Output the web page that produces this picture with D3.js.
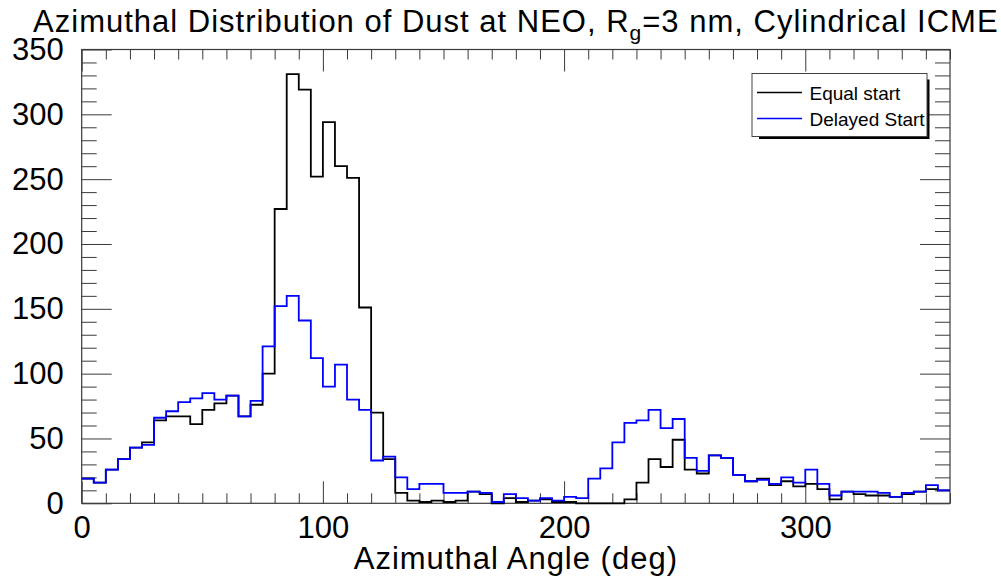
<!DOCTYPE html>
<html>
<head>
<meta charset="utf-8">
<script src="https://cdn.jsdelivr.net/npm/d3@7"></script>
<style>
  html, body { margin: 0; padding: 0; background: #fff; }
  svg { display: block; font-family: "Liberation Sans", Arial, Helvetica, sans-serif; }
</style>
</head>
<body>
<svg id="chart" width="1001" height="579"></svg>
<script>
// Histogram bins: 5-degree bins covering 0..360 deg of azimuth
const binWidth = 5;
const angleMin = 0;
const angleMax = 360;

// Counts per bin, equal start times
const equalStart = [
  19, 16, 26, 34, 43, 47, 64, 67, 67, 61, 72, 77, 83, 67, 76, 100,
  227, 331, 319, 252, 294, 260, 251, 151, 70, 34, 8, 2, 1, 2, 1, 2,
  9, 7, 0, 4, 1, 2, 3, 1, 1, 0, 0, 0, 0, 3, 16, 34,
  28, 49, 26, 23, 37, 35, 22, 17, 19, 14, 17, 13, 15, 11, 3, 9,
  7, 6, 6, 5, 7, 9, 11, 10
];

// Counts per bin, delayed start times
const delayedStart = [
  19, 16, 26, 34, 43, 45, 66, 71, 78, 81, 85, 80, 83, 67, 79, 121,
  152, 160, 141, 112, 90, 107, 80, 72, 33, 36, 20, 11, 15, 15, 8, 8,
  9, 8, 1, 7, 4, 2, 4, 2, 5, 4, 19, 27, 47, 62, 64, 72,
  58, 65, 35, 25, 37, 35, 22, 17, 18, 15, 20, 16, 26, 15, 6, 9,
  9, 9, 8, 5, 8, 9, 14, 10
];

const seriesNames = ["Equal start", "Delayed Start"];
const seriesColors = ["#000000", "#0000ff"];

const xMajorTicks = [0, 100, 200, 300];
const yMajorTicks = [0, 50, 100, 150, 200, 250, 300, 350];
const xMinorStep = 10;
const yMinorStep = 10;
const yMax = 350;

const svg = d3.select("#chart");
const plot = { left: 81.7, right: 950, top: 49.5, bottom: 503.3 };

const x = d3.scaleLinear().domain([angleMin, angleMax]).range([plot.left, plot.right]);
const y = d3.scaleLinear().domain([0, yMax]).range([plot.bottom, plot.top]);

const xMinor = d3.range(angleMin, angleMax + 1, xMinorStep).filter(v => !xMajorTicks.includes(v));
const yMinor = d3.range(0, yMax + 1, yMinorStep).filter(v => !yMajorTicks.includes(v));

const axisColor = "#3a3a3a";
const fontSize = 31;

function styleAxis(g) {
  g.select(".domain").remove();
  g.selectAll(".tick line").attr("stroke", axisColor).attr("stroke-width", 1);
  g.selectAll(".tick text")
    .attr("fill", "#000")
    .style("font-size", fontSize + "px")
    .style("font-family", '"Liberation Sans", Arial, sans-serif');
}

// Bottom axis: labelled major ticks + minor ticks (pointing inward)
svg.append("g").attr("transform", `translate(0,${plot.bottom})`)
  .call(d3.axisBottom(x).tickValues(xMajorTicks).tickSize(-22).tickPadding(12.5).tickFormat(d3.format("d")))
  .call(styleAxis);
svg.append("g").attr("transform", `translate(0,${plot.bottom})`)
  .call(d3.axisBottom(x).tickValues(xMinor).tickSize(-10).tickFormat(""))
  .call(styleAxis);

// Top axis: ticks only
svg.append("g").attr("transform", `translate(0,${plot.top})`)
  .call(d3.axisTop(x).tickValues(xMajorTicks).tickSize(-22).tickFormat(""))
  .call(styleAxis);
svg.append("g").attr("transform", `translate(0,${plot.top})`)
  .call(d3.axisTop(x).tickValues(xMinor).tickSize(-10).tickFormat(""))
  .call(styleAxis);

// Left axis with labels
svg.append("g").attr("transform", `translate(${plot.left},0)`)
  .call(d3.axisLeft(y).tickValues(yMajorTicks).tickSize(-30).tickPadding(18).tickFormat(d3.format("d")))
  .call(styleAxis);
svg.append("g").attr("transform", `translate(${plot.left},0)`)
  .call(d3.axisLeft(y).tickValues(yMinor).tickSize(-15).tickFormat(""))
  .call(styleAxis);

// Right axis: ticks only
svg.append("g").attr("transform", `translate(${plot.right},0)`)
  .call(d3.axisRight(y).tickValues(yMajorTicks).tickSize(-30).tickFormat(""))
  .call(styleAxis);
svg.append("g").attr("transform", `translate(${plot.right},0)`)
  .call(d3.axisRight(y).tickValues(yMinor).tickSize(-15).tickFormat(""))
  .call(styleAxis);

// Plot frame
svg.append("rect")
  .attr("x", plot.left).attr("y", plot.top)
  .attr("width", plot.right - plot.left).attr("height", plot.bottom - plot.top)
  .attr("fill", "none").attr("stroke", axisColor).attr("stroke-width", 1.2);

// Histogram step lines
function stepPoints(counts) {
  const pts = counts.map((c, i) => [angleMin + i * binWidth, c]);
  pts.push([angleMin + counts.length * binWidth, counts[counts.length - 1]]);
  return pts;
}
const line = d3.line().x(d => x(d[0])).y(d => y(d[1])).curve(d3.curveStepAfter);

[equalStart, delayedStart].forEach((counts, i) => {
  svg.append("path")
    .datum(stepPoints(counts))
    .attr("d", line)
    .attr("fill", "none")
    .attr("stroke", seriesColors[i])
    .attr("stroke-width", 1.8)
    .attr("stroke-linejoin", "miter");
});

// Title with subscript
const title = svg.append("text")
  .attr("x", (plot.left + plot.right) / 2)
  .attr("y", 31.7)
  .attr("text-anchor", "middle")
  .style("font-size", fontSize + "px")
  .style("letter-spacing", "1px");
title.append("tspan").text("Azimuthal Distribution of Dust at NEO, R");
title.append("tspan").attr("dy", 8).style("font-size", "21px").text("g");
title.append("tspan").attr("dy", -8).text("=3 nm, Cylindrical ICME");

// X axis title
svg.append("text")
  .attr("x", (plot.left + plot.right) / 2)
  .attr("y", 569)
  .attr("text-anchor", "middle")
  .style("font-size", fontSize + "px")
  .style("letter-spacing", "1px")
  .text("Azimuthal Angle (deg)");

// Legend with drop shadow
const lg = { x: 752, y: 73.5, w: 175, h: 63 };
svg.append("rect")
  .attr("x", lg.x + 7).attr("y", lg.y + 6)
  .attr("width", lg.w - 4.5).attr("height", lg.h - 3.5)
  .attr("fill", "#000");
svg.append("rect")
  .attr("x", lg.x).attr("y", lg.y)
  .attr("width", lg.w).attr("height", lg.h)
  .attr("fill", "#fff").attr("stroke", "#444").attr("stroke-width", 1);

seriesNames.forEach((name, i) => {
  const yy = lg.y + 19 + i * 26;
  svg.append("line")
    .attr("x1", lg.x + 5).attr("x2", lg.x + 50)
    .attr("y1", yy).attr("y2", yy)
    .attr("stroke", seriesColors[i]).attr("stroke-width", 1.5);
  svg.append("text")
    .attr("x", lg.x + 57.5).attr("y", yy + 7)
    .style("font-size", "19px")
    .text(name);
});
</script>
</body>
</html>
